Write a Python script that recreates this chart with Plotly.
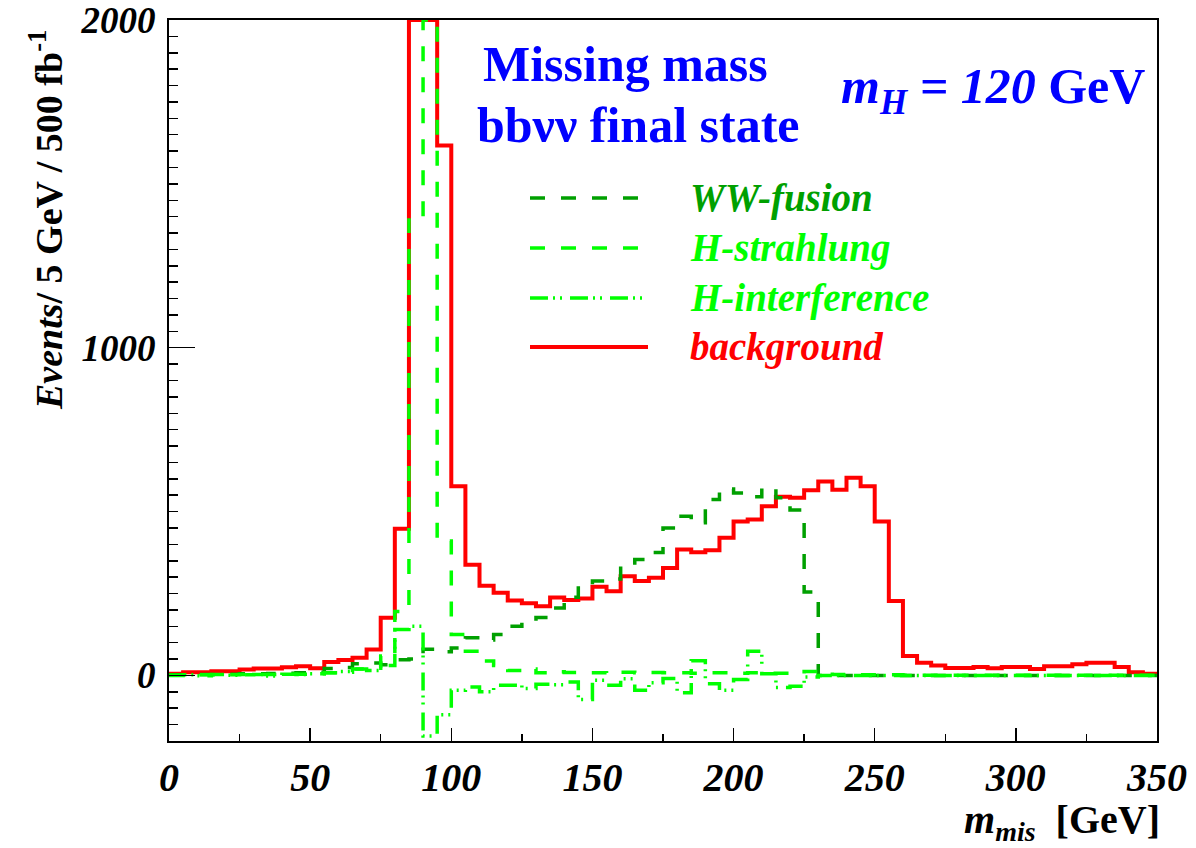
import plotly.graph_objects as go

# ---- data (5 GeV bins from 0 to 350 GeV) ----
bin_width = 5
bin_lo = [i * bin_width for i in range(70)]

background = [5, 10, 10, 13, 13, 18, 21, 21, 25, 28,
              22, 41, 47, 54, 79, 176, 448, 2000, 2000, 1617,
              577, 338, 274, 252, 229, 220, 211, 238, 230, 235,
              271, 257, 303, 288, 298, 328, 384, 376, 382, 420,
              470, 476, 516, 545, 542, 565, 592, 567, 603, 577,
              470, 227, 59, 39, 30, 23, 23, 26, 22, 26,
              26, 20, 28, 28, 34, 39, 39, 26, 10, 5]

ww_fusion = [2, 2, 3, 3, 4, 5, 5, 6, 7, 8,
             10, 21, 24, 36, 38, 33, 48, 50, 80, 72,
             84, 115, 108, 125, 150, 161, 177, 206, 239, 275,
             288, 294, 336, 354, 375, 450, 486, 466, 537, 569,
             557, 545, 572, 542, 505, 255, 0, 0, 0, 0,
             0, 0, 0, 0, 0, 0, 0, 0, 0, 0,
             0, 0, 0, 0, 0, 0, 0, 0, 0, 0]

h_strahlung = [1, 1, 2, 2, 2, 3, 3, 3, 4, 4,
               5, 8, 10, 20, 22, 59, 195, 1390, 2000, 410,
               125, 74, 44, 30, 15, 20, 8, 11, 9, 8,
               8, 7, 10, 8, 9, 8, 8, 7, 8, 8,
               7, 8, 7, 7, 6, 12, 4, 3, 2, 2,
               2, 2, 1, 1, 1, 1, 1, 1, 1, 1,
               1, 1, 1, 1, 1, 1, 1, 1, 1, 1]

h_interference = [0, 2, -1, 3, 1, 2, 3, -2, 4, 3,
                  5, 8, 12, 20, 15, 30, 140, 150, -185, -120,
                  -45, -35, -50, -30, -30, -40, -27, -28, -20, -73,
                  -15, -30, -10, -45, -22, -9, -53, 45, -25, -45,
                  -12, 74, 5, -37, -33, -5, 0, 0, 0, 0,
                  0, 0, 0, 0, 0, 0, 0, 0, 0, 0,
                  0, 0, 0, 0, 0, 0, 0, 0, 0, 0]

x_ticks = [0, 50, 100, 150, 200, 250, 300, 350]
y_ticks = [0, 1000, 2000]
y_mid_ticks = [250, 500, 750, 1250, 1500, 1750]

series = [
    ("background", background, "#ff0000", 4, "solid"),
    ("WW-fusion", ww_fusion, "#00a000", 3.5, "15px,16px"),
    ("H-strahlung", h_strahlung, "#00ff00", 3.5, "15px,16px"),
    ("H-interference", h_interference, "#00ff00", 3.5, "18px,5px,2px,5px,2px,8px"),
]

FONT = "Liberation Serif"

fig = go.Figure()
edges = bin_lo + [bin_lo[-1] + bin_width]
for name, vals, col, w, dash in series:
    fig.add_trace(go.Scatter(
        x=edges, y=list(vals) + [vals[-1]], mode="lines", name=name,
        line=dict(color=col, width=w, dash=dash, shape="hv"),
        showlegend=False, hoverinfo="skip"))

W, H = 1196, 848
L, R, T, B = 169, 39, 20, 107
pw, ph = W - L - R, H - T - B


def px(xp):
    return (xp - L) / pw


def py(yp):
    return (H - B - yp) / ph


fig.update_layout(
    width=W, height=H, autosize=False,
    margin=dict(l=L, r=R, t=T, b=B, pad=0),
    paper_bgcolor="white", plot_bgcolor="white",
    showlegend=False,
    font=dict(family=FONT, color="black"),
)

xtickfont = dict(family=FONT, size=40, weight="bold", style="italic", color="black")
ytickfont = dict(family=FONT, size=37, weight="bold", style="italic", color="black")

fig.update_layout(
    xaxis=dict(
        range=[0, 350], showgrid=False, zeroline=False, automargin=False,
        showline=True, linecolor="black", linewidth=2, mirror=True,
        tickmode="array", tickvals=x_ticks,
        ticks="inside", ticklen=13, tickwidth=1.5, tickcolor="black",
        minor=dict(tickmode="linear", tick0=0, dtick=25, ticks="inside",
                   ticklen=7, tickwidth=1.5, tickcolor="black", showgrid=False),
        tickfont=xtickfont, ticklabelstandoff=0, ticklabeloverflow="allow",
    ),
    yaxis=dict(
        range=[-200, 2000], showgrid=False, zeroline=False, automargin=False,
        showline=True, linecolor="black", linewidth=2, mirror=True,
        tickmode="array", tickvals=y_ticks,
        ticks="inside", ticklen=26, tickwidth=1.5, tickcolor="black",
        minor=dict(tickmode="linear", tick0=0, dtick=50, ticks="inside",
                   ticklen=9, tickwidth=1.5, tickcolor="black", showgrid=False),
        tickfont=ytickfont, ticklabelstandoff=4, ticklabeloverflow="allow",
    ),
    yaxis2=dict(
        range=[-200, 2000], overlaying="y", side="left", anchor="x",
        showgrid=False, zeroline=False, showline=False, automargin=False,
        tickmode="array", tickvals=y_mid_ticks, showticklabels=False,
        ticks="inside", ticklen=18, tickwidth=1.5, tickcolor="black",
    ),
)

# ---- legend (drawn manually to match long line samples) ----
legend_rows = [
    ("WW-fusion", "#00a000", "15px,16px", 3.5, 198),
    ("H-strahlung", "#00ff00", "15px,16px", 3.5, 248),
    ("H-interference", "#00ff00", "18px,5px,2px,5px,2px,8px", 3.5, 298),
    ("background", "#ff0000", "solid", 4, 347),
]
for label, col, dash, w, yp in legend_rows:
    fig.add_shape(type="line", xref="paper", yref="paper",
                  x0=px(530), x1=px(648), y0=py(yp), y1=py(yp),
                  line=dict(color=col, width=w, dash=dash))
    fig.add_annotation(xref="paper", yref="paper", x=px(688), y=py(yp),
                       xanchor="left", yanchor="middle", showarrow=False,
                       text="<b><i>%s</i></b>" % label,
                       font=dict(family=FONT, size=39, color=col))

# ---- titles / labels ----
fig.add_annotation(xref="paper", yref="paper", x=px(481), y=py(64),
                   xanchor="left", yanchor="middle", showarrow=False,
                   text="<b>Missing mass</b>",
                   font=dict(family=FONT, size=50, color="#0000ff"))
fig.add_annotation(xref="paper", yref="paper", x=px(475), y=py(125),
                   xanchor="left", yanchor="middle", showarrow=False,
                   text="<b>bbνν final state</b>",
                   font=dict(family=FONT, size=50, color="#0000ff"))
fig.add_annotation(xref="paper", yref="paper", x=px(1147), y=py(90),
                   xanchor="right", yanchor="middle", showarrow=False,
                   text="<b><i>m</i></b><sub><b><i>H</i></b></sub><b><i> = 120</i> GeV</b>",
                   font=dict(family=FONT, size=50, color="#0000ff"))

fig.add_annotation(xref="paper", yref="paper", x=px(46), y=py(220),
                   xanchor="center", yanchor="middle", showarrow=False, textangle=-90,
                   text="<b><i>Events</i>/ 5 GeV / 500 fb<sup>-1</sup></b>",
                   font=dict(family=FONT, size=38, color="black"))
fig.add_annotation(xref="paper", yref="paper", x=px(1162), y=py(822),
                   xanchor="right", yanchor="middle", showarrow=False,
                   text="<b><i>m</i></b><sub><b><i>mis</i></b></sub><b>  [GeV]</b>",
                   font=dict(family=FONT, size=40, color="black"))

# remove the default page margin so the figure sits at the window's top-left corner
fig.write_html("out.html",
               config={"displayModeBar": False, "staticPlot": True},
               post_script="document.body.style.margin='0px';document.body.style.overflow='hidden';")
